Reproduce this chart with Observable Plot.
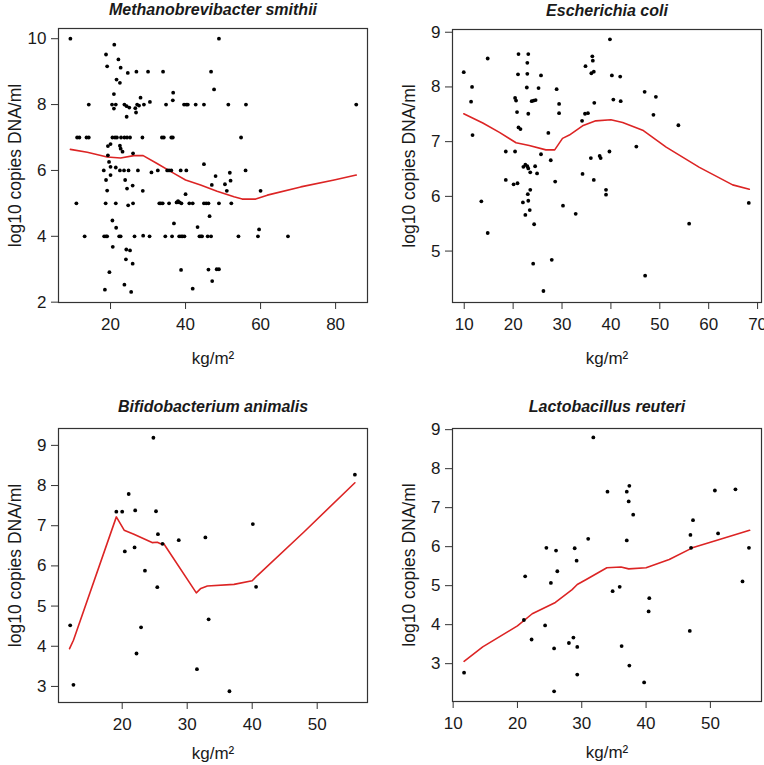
<!DOCTYPE html>
<html><head><meta charset="utf-8">
<script src="https://cdn.jsdelivr.net/npm/d3@7"></script>
<script src="https://cdn.jsdelivr.net/npm/@observablehq/plot@0.6"></script>
<style>
html,body{margin:0;padding:0;background:#fff;}
#chart{position:relative;width:764px;height:765px;overflow:hidden;background:#fff;}
#chart svg{position:absolute;}
</style></head><body><div id="chart"></div>
<script>
// ---- Data (BMI kg/m2 vs log10 copies DNA/ml) ----
const panelTitles = ["Methanobrevibacter smithii", "Escherichia coli", "Bifidobacterium animalis", "Lactobacillus reuteri"];
const xAxisLabel = "kg/m²";
const yAxisLabel = "log10 copies DNA/ml";

const smithiiPoints = [
[9.3,10],[18.8,9.52],[19.1,9.16],[21.0,9.82],[22.1,9.37],[22.7,9.12],[21.6,8.76],[22.5,8.66],[24.6,8.96],[26.9,9.0],[30.0,9.0],[34.0,9.0],[46.8,9.0],[47.6,8.46],[48.9,10.0],[36.7,8.36],[36.6,8.13],[28.0,8.21],[20.9,8.32],
[14.2,8],[20.4,8],[20.9,7.88],[21.4,8],[23.7,8],[24.3,7.95],[25.0,7.91],[24.3,7.63],[26.6,7.89],[26.8,7.76],[27.1,8],[27.6,7.97],[28.9,8],[30.5,8.08],[34.8,8],[39.6,8],[40.2,8],[40.6,8],[42.7,8],[44.9,8],[51.4,8],[56.1,8],[85.5,8],
[11.1,7],[11.7,7],[13.6,7],[14.2,7],[20.5,7],[21.2,7],[21.7,7],[22.8,7],[23.7,7],[24.4,7],[25.2,7],[28.5,7],[33.7,7],[34.2,7],[36.2,7],[36.6,7],[54.8,7],
[19.3,6.74],[20.0,6.8],[22.5,6.75],[22.7,6.66],[23.2,6.57],[19.3,6.46],[26.0,6.52],[19.6,6.26],[20.0,6.11],[21.4,6.09],[22.5,6],[23.6,6],[24.8,6],[27.3,6],[30.9,5.94],[32.6,6],[35.1,6],[35.6,6],[36.2,6],[38.7,6],[40.2,6],[44.9,6.19],[56.0,6],[51.8,5.93],[48.0,5.83],[47.0,5.56],[50.5,5.58],[52.0,5.69],[51.0,5.38],[60.0,5.38],[18.2,6],[18.8,5.71],[20.0,5.86],[23.9,5.71],[24.4,5.45],[25.9,5.54],[19.1,5.39],[28.6,5.38],[40.0,5.28],
[10.9,5],[18.7,5],[21.4,5],[24.7,4.94],[26.0,5],[33.0,5],[33.4,5],[33.9,5],[35.6,5],[37.6,5.03],[38.0,5.07],[38.4,5.03],[38.9,5],[41.0,5],[41.9,5],[44.9,5],[45.5,5],[46.1,5],[48.9,5],[52.2,5],
[20.5,4.48],[21.5,4.26],[36.9,4.39],[43.2,4.28],[46.4,4.61],
[13.1,4],[18.3,4],[18.8,4],[19.1,4],[22.3,4],[22.7,4],[26.4,4],[28.7,4.02],[30.4,4],[34.6,4],[36.4,4],[38.3,4],[38.8,4],[39.2,4],[39.7,4],[43.7,4],[44.1,4],[44.4,4],[45.9,4],[46.8,4],[54.1,4],[59.3,4],[67.3,4],
[59.6,4.21],[20.6,3.68],[24.2,3.6],[25.2,3.57],[24.1,3.3],[25.9,3.17],
[19.7,2.91],[38.8,2.98],[46.1,2.99],[48.3,3],[48.9,3],
[47.1,2.64],[41.9,2.41],[18.5,2.38],[23.7,2.53],[25.5,2.31]
];
const smithiiFit = [[9.3,6.64],[13.8,6.55],[19.1,6.41],[22.7,6.38],[26.2,6.45],[28.7,6.45],[32.4,6.21],[36.9,5.91],[40.0,5.71],[44.0,5.56],[48.4,5.37],[52.9,5.2],[55.1,5.13],[58.7,5.13],[61.8,5.25],[70.7,5.5],[79.6,5.71],[85.5,5.86]];

const coliPoints = [
[9.9,8.27],[11.6,8.0],[11.4,7.73],[11.7,7.12],[14.8,8.52],[21.1,8.6],[23.1,8.6],[22.9,8.44],[21.0,8.23],[22.9,8.24],[25.7,8.21],[22.8,7.99],[25.2,7.98],[20.4,7.8],[20.6,7.75],[23.8,7.74],[24.2,7.75],[24.6,7.76],[20.8,7.54],[23.1,7.51],[21.1,7.26],[21.5,7.23],[18.5,6.82],[20.4,6.82],[22.1,6.54],[22.5,6.58],[22.9,6.55],[23.1,6.51],[24.5,6.55],[23.5,6.44],[24.9,6.42],[25.7,6.77],[27.2,7.16],[27.7,6.66],[28.9,7.96],[29.4,7.69],[29.4,7.52],[28.6,6.27],[18.5,6.3],[20.1,6.22],[20.9,6.24],[23.0,6.04],[23.5,6.12],
[34.8,8.38],[36.2,8.56],[36.3,8.48],[36.0,8.25],[36.5,8.28],[36.6,7.71],[34.7,7.51],[35.3,7.52],[34.1,7.38],[39.8,8.87],[40.2,8.21],[40.5,7.77],[41.9,8.19],[42.0,7.74],[46.9,7.91],[49.2,7.82],[48.7,7.49],[53.8,7.3],[45.2,6.91],[39.7,6.82],[35.9,6.7],[37.7,6.74],[37.9,6.7],[34.2,6.41],[36.5,6.3],[39.0,6.12],[39.0,6.03],
[13.5,5.91],[22.0,5.89],[23.1,5.92],[23.4,5.75],[22.5,5.66],[14.8,5.33],[24.3,5.49],[30.2,5.83],[32.8,5.68],[24.1,4.77],[27.9,4.84],[26.2,4.27],[47.0,4.55],[56.0,5.5],[68.2,5.88]
];
const coliFit = [[9.9,7.51],[13.8,7.34],[17.2,7.17],[20.6,6.98],[23.3,6.93],[26.7,6.85],[28.5,6.85],[30.1,7.06],[31.5,7.12],[34.2,7.29],[36.9,7.38],[40.0,7.40],[42.4,7.35],[46.5,7.21],[51.3,6.90],[58.1,6.53],[64.9,6.21],[68.3,6.13]];

const animalisPoints = [
[24.8,9.19],[19.1,7.35],[20.0,7.35],[21.0,7.79],[22.0,7.38],[25.2,7.36],[25.5,6.79],[26.2,6.55],[20.4,6.36],[21.9,6.46],[28.7,6.64],[32.8,6.71],[40.1,7.04],[55.8,8.27],[23.5,5.88],[25.4,5.47],[12.0,4.52],[22.9,4.47],[22.2,3.82],[12.5,3.04],[31.5,3.43],[33.3,4.67],[36.5,2.88],[40.6,5.48]
];
const animalisFit = [[11.9,3.94],[12.5,4.15],[19.1,7.22],[20.3,6.89],[21.8,6.79],[24.6,6.58],[25.4,6.59],[25.9,6.55],[26.4,6.55],[31.4,5.33],[32.1,5.44],[33.1,5.5],[37.2,5.54],[40.0,5.63],[40.8,5.76],[48.0,6.85],[55.8,8.07]];

const reuteriPoints = [
[31.8,8.8],[34.0,7.41],[37.0,7.41],[37.4,7.56],[37.3,7.16],[38.0,6.82],[37.0,6.16],[31.0,6.2],[24.5,5.97],[26.0,5.9],[28.9,5.96],[29.2,5.64],[26.2,5.37],[46.9,6.3],[47.3,6.68],[47.0,5.97],[50.7,7.44],[51.2,6.34],[53.9,7.47],[56.0,5.97],[21.2,5.24],[25.2,5.07],[21.0,4.12],[22.2,3.62],[24.3,3.98],[28.0,3.53],[28.7,3.67],[29.3,3.43],[25.7,3.39],[29.3,2.72],[25.7,2.29],[34.8,4.86],[35.9,4.97],[40.5,4.68],[40.4,4.34],[36.2,3.45],[37.4,2.95],[39.7,2.52],[46.8,3.84],[55.0,5.11],[11.7,2.77]
];
const reuteriFit = [[11.7,3.06],[14.6,3.43],[20.0,3.97],[22.3,4.28],[25.9,4.57],[28.5,4.9],[29.3,5.03],[30.7,5.16],[33.9,5.46],[36.1,5.48],[37.3,5.43],[40.0,5.46],[43.6,5.67],[47.2,5.97],[50.9,6.16],[56.1,6.42]];

const smithiiXTicks = [20, 40, 60, 80], smithiiYTicks = [2, 4, 6, 8, 10];
const coliXTicks = [10, 20, 30, 40, 50, 60, 70], coliYTicks = [5, 6, 7, 8, 9];
const animalisXTicks = [20, 30, 40, 50], animalisYTicks = [3, 4, 5, 6, 7, 8, 9];
const reuteriXTicks = [10, 20, 30, 40, 50], reuteriYTicks = [3, 4, 5, 6, 7, 8, 9];

// ---- Drawing ----
const FONT = "'Liberation Sans', Arial, Helvetica, sans-serif";
const fmt = d3.format("d");
function panel(cfg) {
  const pts = cfg.points.map(([x, y]) => ({x, y}));
  const fit = cfg.fit.map(([x, y]) => ({x, y}));
  const svg = Plot.plot({
    width: cfg.w, height: cfg.h,
    marginLeft: cfg.mL, marginTop: cfg.mT, marginRight: cfg.mR, marginBottom: cfg.mB,
    style: {fontFamily: FONT, fontSize: "17px", color: "#1a1a1a", background: "transparent", overflow: "visible"},
    x: {domain: cfg.xDomain, label: null},
    y: {domain: cfg.yDomain, label: null},
    marks: [
      Plot.axisX({ticks: cfg.xTicks, tickFormat: fmt, tickSize: 7, tickPadding: 8, label: null, stroke: "#333", fontSize: 17}),
      Plot.axisY({ticks: cfg.yTicks, tickFormat: fmt, tickSize: 7, tickPadding: 5, label: null, stroke: "#333", fontSize: 17}),
      Plot.frame({stroke: "#333", strokeWidth: 1.2}),
      Plot.line(fit, {x: "x", y: "y", stroke: "#dc2424", strokeWidth: 1.6}),
      Plot.dot(pts, {x: "x", y: "y", r: 1.9, fill: "#000", stroke: null}),
      Plot.text([cfg.title], {text: d => d, frameAnchor: "top", lineAnchor: "bottom", dy: cfg.titleDy, fontWeight: "bold", fontStyle: "italic", fontSize: 16}),
      Plot.text([xAxisLabel], {text: d => d, frameAnchor: "bottom", lineAnchor: "bottom", dy: cfg.xLabDy, fontSize: 17}),
      Plot.text([yAxisLabel], {text: d => d, frameAnchor: "left", textAnchor: "middle", lineAnchor: "middle", rotate: -90, dx: cfg.yLabDx, fontSize: 17.5})
    ]
  });
  svg.style.left = cfg.left + "px";
  svg.style.top = cfg.top + "px";
  return svg;
}

const chart = document.getElementById("chart");
chart.append(
  panel({title: panelTitles[0], points: smithiiPoints, fit: smithiiFit, xTicks: smithiiXTicks, yTicks: smithiiYTicks,
    xDomain: [6.13, 88.5], yDomain: [1.99, 10.31],
    left: 0, top: 0, w: 382, h: 382, mL: 58, mT: 28, mR: 15, mB: 80, titleDy: -14, xLabDy: 61, yLabDx: -43}),
  panel({title: panelTitles[1], points: coliPoints, fit: coliFit, xTicks: coliXTicks, yTicks: coliYTicks,
    xDomain: [7.6, 70.8], yDomain: [4.06, 9.05],
    left: 382, top: 0, w: 382, h: 382, mL: 70, mT: 29, mR: 3, mB: 80, titleDy: -14, xLabDy: 61, yLabDx: -43}),
  panel({title: panelTitles[2], points: animalisPoints, fit: animalisFit, xTicks: animalisXTicks, yTicks: animalisYTicks,
    xDomain: [10.2, 57.74], yDomain: [2.60, 9.42],
    left: 0, top: 382, w: 382, h: 383, mL: 58, mT: 46, mR: 15, mB: 63, titleDy: -17, xLabDy: 56, yLabDx: -43}),
  panel({title: panelTitles[3], points: reuteriPoints, fit: reuteriFit, xTicks: reuteriXTicks, yTicks: reuteriYTicks,
    xDomain: [9.9, 57.95], yDomain: [2.03, 9.03],
    left: 382, top: 382, w: 382, h: 383, mL: 70, mT: 46, mR: 3, mB: 64, titleDy: -17, xLabDy: 56, yLabDx: -43})
);
</script>
</body></html>
